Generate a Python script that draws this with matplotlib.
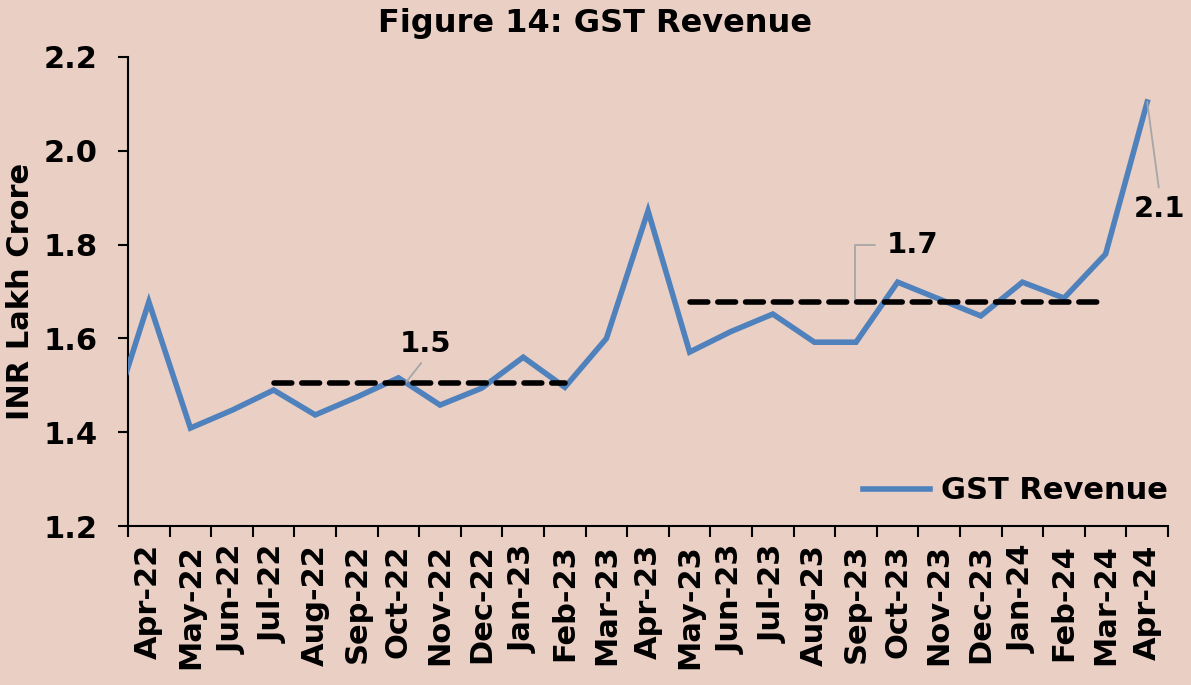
import numpy as np
import matplotlib
matplotlib.use("Agg")
import matplotlib.pyplot as plt

months = ["Apr-22", "May-22", "Jun-22", "Jul-22", "Aug-22", "Sep-22", "Oct-22",
          "Nov-22", "Dec-22", "Jan-23", "Feb-23", "Mar-23", "Apr-23", "May-23",
          "Jun-23", "Jul-23", "Aug-23", "Sep-23", "Oct-23", "Nov-23", "Dec-23",
          "Jan-24", "Feb-24", "Mar-24", "Apr-24"]
# Mar-22 sits just left of the axis, so only its segment shows
prev_value = 1.40
gst = [1.678, 1.409, 1.447, 1.49, 1.437, 1.475, 1.516, 1.458, 1.494, 1.56,
       1.496, 1.60, 1.872, 1.571, 1.615, 1.652, 1.592, 1.592, 1.72, 1.684,
       1.648, 1.72, 1.686, 1.78, 2.104]

avg1_value, avg1_from, avg1_to = 1.505, "Jul-22", "Feb-23"
avg2_value, avg2_from, avg2_to = 1.678, "May-23", "Mar-24"

bg = "#EACFC4"
blue = "#4F81BD"
grey = "#A6A6A6"

fig = plt.figure(figsize=(11.91, 6.85), dpi=100, facecolor=bg)
ax = fig.add_axes([0.1075, 0.232, 0.8732, 0.6848])
ax.set_facecolor(bg)

x = np.arange(len(months))
ax.plot(np.r_[-1, x], np.r_[prev_value, gst], color=blue, lw=4,
        solid_joinstyle="miter", label="GST Revenue", zorder=3)

for val, a, b in [(avg1_value, avg1_from, avg1_to), (avg2_value, avg2_from, avg2_to)]:
    i0, i1 = months.index(a), months.index(b)
    ax.plot([i0, i1], [val, val], color="black", lw=4, ls=(0, (3.2, 1.8)),
            dash_capstyle="round", zorder=4)

ax.set_xlim(-0.5, len(months) - 0.5)
ax.set_ylim(1.2, 2.2)
ax.set_yticks([1.2, 1.4, 1.6, 1.8, 2.0, 2.2])
ax.set_yticklabels(["1.2", "1.4", "1.6", "1.8", "2.0", "2.2"],
                   fontsize=22, fontweight="bold")
ax.set_xticks(x)
ax.set_xticklabels(months, rotation=90, fontsize=22, fontweight="bold")
ax.set_xticks(np.arange(-0.5, len(months)), minor=True)
ax.tick_params(axis="x", which="major", length=0, pad=13)
ax.tick_params(axis="x", which="minor", length=8, width=1.5, direction="out")
ax.tick_params(axis="y", length=7, width=1.5, direction="out", pad=15)

for s in ["top", "right"]:
    ax.spines[s].set_visible(False)
for s in ["left", "bottom"]:
    ax.spines[s].set_linewidth(1.5)

ax.set_ylabel("INR Lakh Crore", fontsize=22, fontweight="bold", labelpad=6)
fig.suptitle("Figure 14: GST Revenue", fontsize=23, fontweight="bold", y=0.988)

# value labels with leader lines
ax.annotate("1.5", xy=(months.index("Oct-22") + 0.17, avg1_value),
            xytext=(6.64, 1.588), fontsize=21, fontweight="bold",
            ha="center", va="center",
            arrowprops=dict(arrowstyle="-", color=grey, lw=1.3, relpos=(0.5, 0),
                            shrinkA=2, shrinkB=0))
ax.annotate("1.7", xy=(months.index("Sep-23") - 0.03, avg2_value),
            xytext=(18.35, 1.80), fontsize=21, fontweight="bold",
            ha="center", va="center",
            arrowprops=dict(arrowstyle="-", color=grey, lw=1.3, relpos=(0, 0.5),
                            connectionstyle="angle,angleA=0,angleB=90,rad=0",
                            shrinkA=6, shrinkB=0))
i_last = len(months) - 1
ax.annotate("2.1", xy=(i_last, gst[-1]), xytext=(24.3, 1.877),
            fontsize=21, fontweight="bold", ha="center", va="center",
            annotation_clip=False,
            arrowprops=dict(arrowstyle="-", color=grey, lw=1.3, relpos=(0.5, 1),
                            shrinkA=3, shrinkB=0))

leg = ax.legend(loc="center right", bbox_to_anchor=(1.0, 0.075), frameon=False,
                prop=dict(size=22, weight="bold"), handlelength=2.2,
                handletextpad=0.35, borderaxespad=0.0, borderpad=0.0)

fig.savefig("out.png", dpi=100, facecolor=bg)
